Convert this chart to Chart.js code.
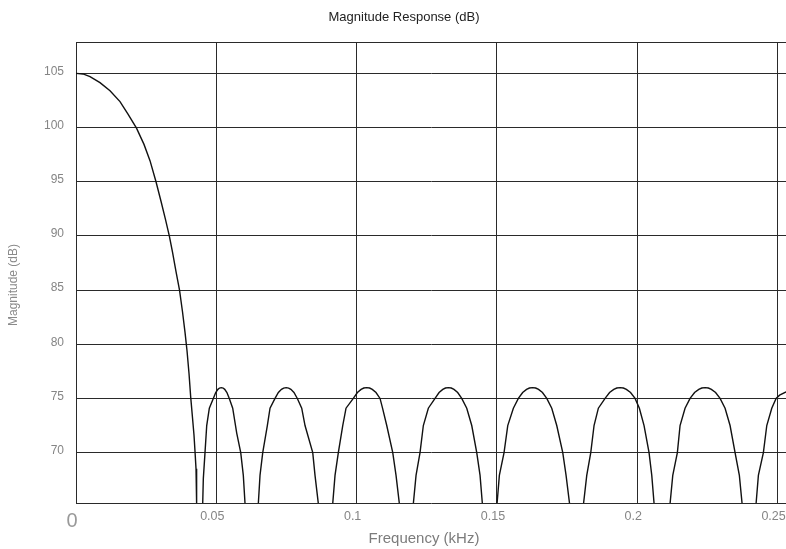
<!DOCTYPE html>
<html>
<head>
<meta charset="utf-8">
<script src="https://cdn.jsdelivr.net/npm/chart.js@4/dist/chart.umd.min.js"></script>
<style>
  html, body { margin: 0; padding: 0; background: #fff; }
  #wrap { width: 786px; height: 549px; position: relative; }
</style>
</head>
<body>
<div id="wrap"><canvas id="chart"></canvas></div>
<script>
// frequency (kHz) and magnitude (dB); 50 = deep null below the axis
const freqKHz = [
  // main lobe
  0, 0.00249, 0.00499, 0.00855, 0.01212, 0.01568, 0.01853, 0.02156, 0.02423, 0.02637,
  0.02851, 0.03029, 0.0319, 0.03325, 0.03439, 0.03564, 0.03689, 0.03795, 0.03885, 0.03956,
  0.04027, 0.04088, 0.04152, 0.04205, 0.04241, 0.04277, 0.04298, 0.04401,
  // side lobes
  0.04515, 0.04537, 0.04597, 0.04658, 0.04751, 0.04893, 0.04979, 0.05057, 0.05114, 0.05178,
  0.05242, 0.05299, 0.05378, 0.05463, 0.05584, 0.05727, 0.0587, 0.05962, 0.06023, 0.06254,
  0.06497, 0.06557, 0.06654, 0.06818, 0.06914, 0.07092, 0.07211, 0.07322, 0.074, 0.07489,
  0.07579, 0.07657, 0.07767, 0.07887, 0.08043, 0.08161, 0.08436, 0.08517, 0.08635, 0.08892,
  0.09148, 0.0923, 0.09348, 0.09505, 0.09622, 0.09882, 0.10027, 0.10159, 0.10255, 0.10358,
  0.10462, 0.10558, 0.1069, 0.10834, 0.10923, 0.11073, 0.11287, 0.11404, 0.11522, 0.1176,
  0.12021, 0.12117, 0.12259, 0.12377, 0.12555, 0.12794, 0.12938, 0.1307, 0.13166, 0.1327,
  0.13373, 0.13469, 0.13601, 0.13745, 0.13924, 0.14102, 0.1428, 0.14398, 0.1448, 0.14754,
  0.15004, 0.15086, 0.15253, 0.15385, 0.15585, 0.15763, 0.15916, 0.16055, 0.16158, 0.16269,
  0.16379, 0.16483, 0.16622, 0.16775, 0.16953, 0.17131, 0.17345, 0.17463, 0.17587, 0.17837,
  0.18086, 0.182, 0.18343, 0.1846, 0.18614, 0.18853, 0.19013, 0.19163, 0.1927, 0.19387,
  0.19505, 0.19612, 0.19761, 0.19922, 0.20075, 0.20242, 0.2042, 0.20517, 0.20599, 0.20884,
  0.21169, 0.21265, 0.21429, 0.21525, 0.21703, 0.21882, 0.22042, 0.22192, 0.22299, 0.22416,
  0.22534, 0.22641, 0.22791, 0.22951, 0.23129, 0.23307, 0.23485, 0.23638, 0.23735, 0.23984,
  0.24234, 0.24316, 0.24494, 0.24615, 0.24793, 0.24947, 0.25072, 0.25303, 0.25517
];
const magDB = [
  105.0, 104.95, 104.7, 104.15, 103.4, 102.4, 101.25, 99.95, 98.45, 96.95,
  95.0, 93.2, 91.5, 90.0, 88.5, 86.7, 85.0, 83.0, 81.1, 79.4,
  77.3, 75.1, 73.2, 71.6, 70.1, 68.5, 65.3, 50,
  65.3, 67.6, 70.0, 72.5, 74.1, 75.0, 75.55, 75.84, 75.96, 76.0,
  75.96, 75.84, 75.55, 75.0, 74.1, 71.8, 70.0, 67.9, 65.3, 50,
  65.3, 67.9, 70.0, 72.5, 74.1, 75.0, 75.55, 75.84, 75.96, 76.0,
  75.96, 75.84, 75.55, 75.0, 74.1, 72.5, 70.0, 67.9, 65.3, 50,
  65.3, 67.9, 70.0, 72.5, 74.1, 75.0, 75.55, 75.84, 75.96, 76.0,
  75.96, 75.84, 75.55, 75.0, 74.1, 72.5, 70.0, 67.9, 65.3, 50,
  65.3, 67.9, 70.0, 72.5, 74.1, 75.0, 75.55, 75.84, 75.96, 76.0,
  75.96, 75.84, 75.55, 75.0, 74.1, 72.5, 70.0, 67.9, 65.3, 50,
  65.3, 67.9, 70.0, 72.5, 74.1, 75.0, 75.55, 75.84, 75.96, 76.0,
  75.96, 75.84, 75.55, 75.0, 74.1, 72.5, 70.0, 67.9, 65.3, 50,
  65.3, 67.9, 70.0, 72.5, 74.1, 75.0, 75.55, 75.84, 75.96, 76.0,
  75.96, 75.84, 75.55, 75.0, 74.1, 72.5, 70.0, 67.9, 65.3, 50,
  65.3, 67.9, 70.0, 72.5, 74.1, 75.0, 75.55, 75.84, 75.96, 76.0,
  75.96, 75.84, 75.55, 75.0, 74.1, 72.5, 70.0, 67.9, 65.3, 50,
  65.3, 67.9, 70.0, 72.5, 74.1, 75.0, 75.3, 75.6, 75.85
];
const xTicks = [0, 0.05, 0.1, 0.15, 0.2, 0.25];
const yTicks = [70, 75, 80, 85, 90, 95, 100, 105];

const gridColor = "#2a2a2a";
Chart.defaults.font.family = "'Liberation Sans', Arial, sans-serif";

// titles + top frame line, placed where the reference has them
const textPlugin = {
  id: "texts",
  afterDraw(chart) {
    const { ctx, chartArea } = chart;
    ctx.save();
    ctx.strokeStyle = gridColor;
    ctx.lineWidth = 1;
    ctx.beginPath();
    ctx.moveTo(chartArea.left, chartArea.top + 0.5);
    ctx.lineTo(chartArea.right, chartArea.top + 0.5);
    ctx.stroke();

    ctx.textAlign = "center";
    ctx.textBaseline = "middle";
    ctx.fillStyle = "#222";
    ctx.font = "13px 'Liberation Sans', Arial, sans-serif";
    ctx.fillText("Magnitude Response (dB)", 404, 17);

    ctx.fillStyle = "#7c7c7c";
    ctx.font = "15px 'Liberation Sans', Arial, sans-serif";
    ctx.fillText("Frequency (kHz)", 424, 539);

    ctx.translate(14, 285);
    ctx.rotate(-Math.PI / 2);
    ctx.fillStyle = "#8a8a8a";
    ctx.font = "12px 'Liberation Sans', Arial, sans-serif";
    ctx.fillText("Magnitude (dB)", 0, 0);
    ctx.restore();
  }
};

new Chart(document.getElementById("chart"), {
  type: "line",
  data: {
    datasets: [{
      data: freqKHz.map((f, i) => ({ x: f, y: magDB[i] })),
      borderColor: "#111",
      borderWidth: 1.4,
      pointRadius: 0,
      tension: 0,
      fill: false,
      clip: 0
    }]
  },
  options: {
    responsive: true,
    maintainAspectRatio: false,
    animation: false,
    layout: { padding: { top: 42, left: 0, right: 0, bottom: 0 } },
    plugins: { legend: { display: false }, tooltip: { enabled: false } },
    scales: {
      x: {
        type: "linear",
        min: 0,
        max: 0.253,
        afterBuildTicks: s => { s.ticks = xTicks.map(v => ({ value: v })); },
        afterFit: s => { s.height = 46; s.paddingLeft = 0; s.paddingRight = 0; },
        grid: { color: gridColor, lineWidth: 1, drawTicks: false },
        border: { display: true, color: gridColor, width: 1 },
        ticks: {
          autoSkip: false,
          maxRotation: 0,
          padding: 6,
          labelOffset: -4,
          color: c => c.tick && c.tick.value === 0 ? "#999" : "#858585",
          font: c => c.tick && c.tick.value === 0 ? { size: 20 } : { size: 12.5 },
          callback: v => String(Math.round(v * 100) / 100)
        }
      },
      y: {
        min: 65.35,
        max: 107.9,
        afterBuildTicks: s => { s.ticks = yTicks.map(v => ({ value: v })); },
        afterFit: s => { s.width = 76; s.paddingTop = 0; s.paddingBottom = 0; },
        grid: { color: gridColor, lineWidth: 1, drawTicks: false },
        border: { display: true, color: gridColor, width: 1 },
        ticks: {
          padding: 12,
          labelOffset: -2,
          color: "#858585",
          font: { size: 12 }
        }
      }
    }
  },
  plugins: [textPlugin]
});
</script>
</body>
</html>
